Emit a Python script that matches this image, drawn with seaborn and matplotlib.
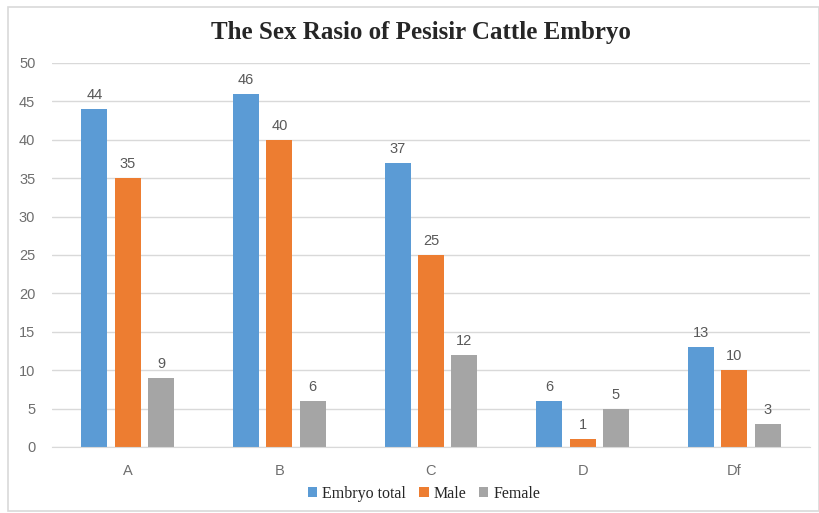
import matplotlib
matplotlib.use("Agg")
import matplotlib.pyplot as plt
import seaborn as sns
import pandas as pd
from matplotlib.patches import Rectangle

# data
groups = ["A", "B", "C", "D", "Df"]
embryo_total = [44, 46, 37, 6, 13]
male = [35, 40, 25, 1, 10]
female = [9, 6, 12, 5, 3]
series = ["Embryo total", "Male", "Female"]
colors = ["#5B9BD5", "#ED7D31", "#A5A5A5"]

df = pd.DataFrame({
    "group": groups * 3,
    "value": embryo_total + male + female,
    "series": [s for s in series for _ in groups],
})

sns.set_style("white")
plt.rcParams["font.family"] = ["Liberation Sans", "DejaVu Sans"]

fig = plt.figure(figsize=(8.19, 5.13), dpi=100)
ax = fig.add_axes([52 / 819, 66 / 513, 758 / 819, 384 / 513])

sns.barplot(data=df, x="group", y="value", hue="series", palette=colors,
            width=0.66, gap=0.22, ax=ax, legend=True, saturation=1,
            linewidth=0)

ax.set_ylim(0, 50)
ax.set_xlim(-0.5, len(groups) - 0.5)
ax.set_yticks(range(0, 51, 5))
ax.yaxis.grid(True, color="#D9D9D9", linewidth=1)
ax.set_axisbelow(True)
for s in ["top", "right", "left"]:
    ax.spines[s].set_visible(False)
ax.spines["bottom"].set_color("#D9D9D9")
ax.tick_params(axis="both", length=0, labelsize=10.5, labelcolor="#6E6E6E")
ax.tick_params(axis="y", pad=12)
ax.tick_params(axis="x", pad=12)
ax.set_xlabel("")
ax.set_ylabel("")

# value labels above bars
for cont in ax.containers:
    ax.bar_label(cont, padding=5, fontsize=10.5, color="#595959")

# legend under the plot
handles, labels = ax.get_legend_handles_labels()
ax.legend_.remove()
fig.legend(handles, labels, loc="center", bbox_to_anchor=(424 / 819, 1 - 494 / 513),
           ncol=3, frameon=False, handlelength=0.6, handleheight=0.6,
           handletextpad=0.3, columnspacing=0.8,
           prop={"family": "Liberation Serif", "size": 11.5})

fig.text(421 / 819, 1 - 32 / 513, "The Sex Rasio of Pesisir Cattle Embryo",
         ha="center", va="center", fontsize=18, fontweight="bold",
         family="Liberation Serif")

# chart border
fig.patches.append(Rectangle((8 / 819, 1 - 511 / 513), 811 / 819, 504 / 513,
                             transform=fig.transFigure, fill=False,
                             edgecolor="#D9D9D9", linewidth=1.2))

fig.savefig("out.png", dpi=100)
plt.close(fig)
